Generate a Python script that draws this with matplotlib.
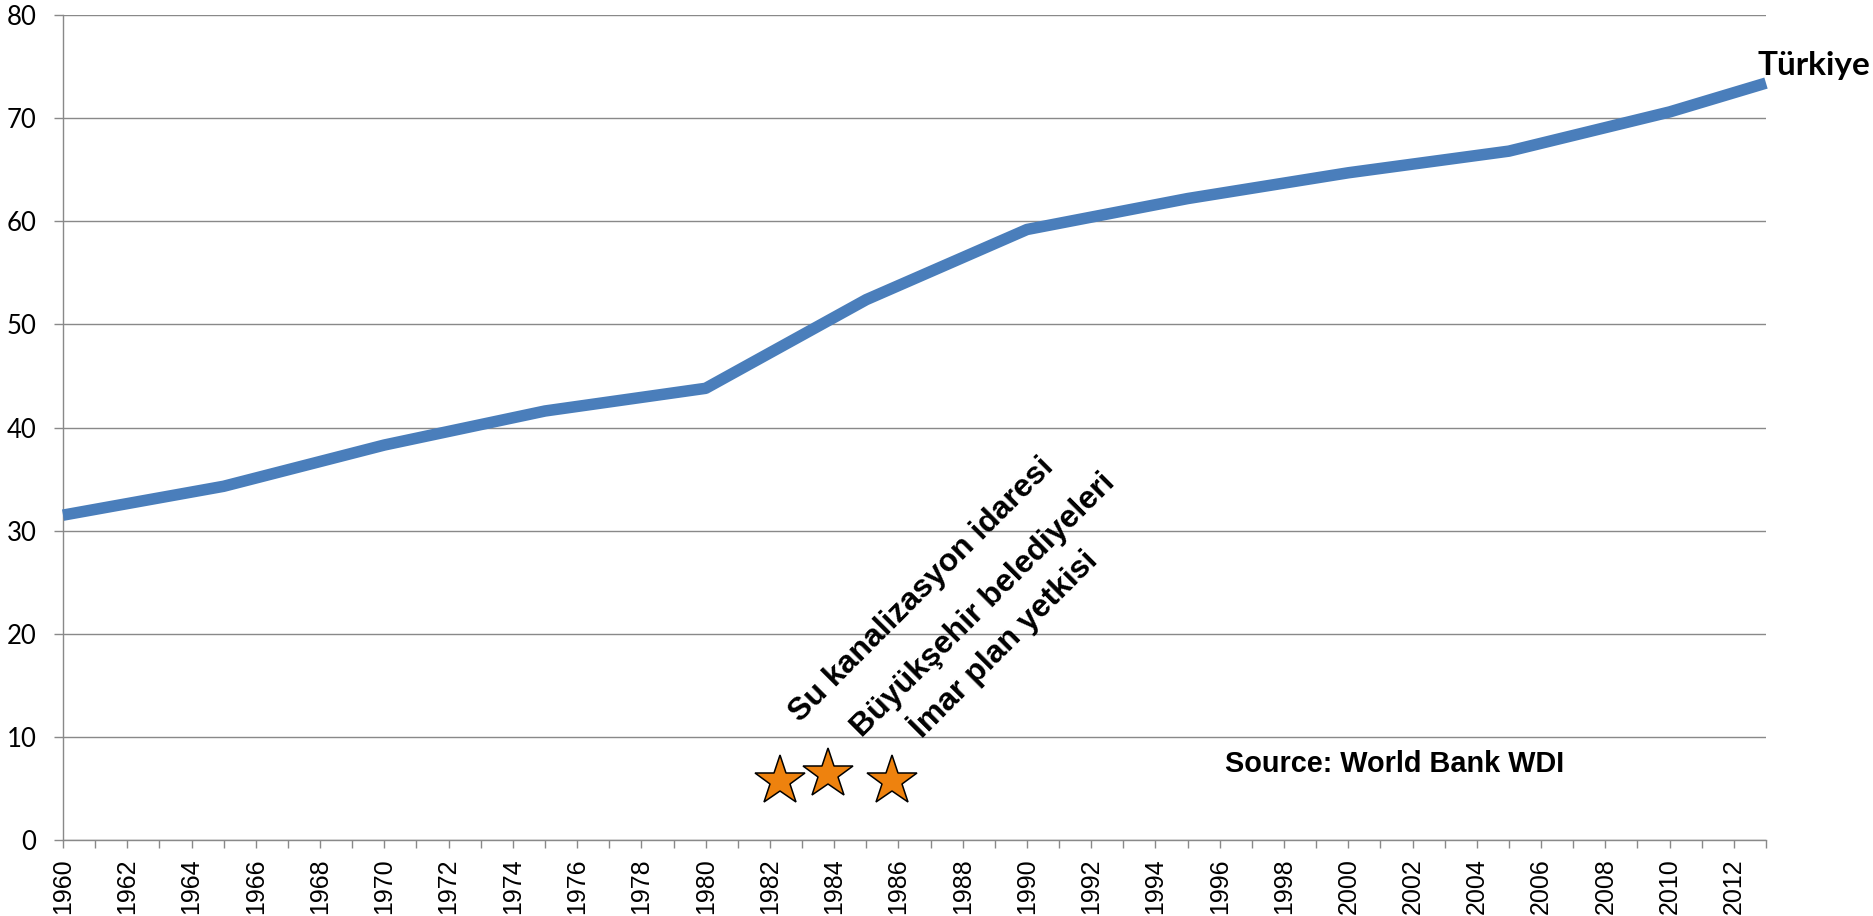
import matplotlib
matplotlib.use("Agg")
import matplotlib.pyplot as plt
from matplotlib.ticker import MultipleLocator, FuncFormatter

# urban population share, Turkey (5-year knots)
YEARS  = [1960, 1965, 1970, 1975, 1980, 1985, 1990, 1995, 2000, 2005, 2010, 2013]
URBAN  = [31.5, 34.3, 38.3, 41.6, 43.8, 52.4, 59.2, 62.2, 64.7, 66.8, 70.6, 73.4]

# reform markers
STAR_X = [1982.3, 1983.8, 1985.8]
STAR_Y = [5.7, 6.4, 5.7]
EVENTS = ["Su kanalizasyon idaresi", "Büyükşehir belediyeleri", "İmar plan yetkisi"]
EVENT_X = [1982.95, 1984.87, 1986.73]
EVENT_Y = [11.3, 9.9, 9.8]

GRAY = "#898989"
BLUE = "#4A7EBB"

fig = plt.figure(figsize=(18.74, 9.16), dpi=100)
ax = fig.add_axes([63 / 1874, 1 - 840 / 916, (1766 - 63) / 1874, (840 - 15) / 916])

ax.plot(YEARS, URBAN, color=BLUE, lw=8.3, solid_capstyle="butt",
        solid_joinstyle="round", zorder=3, clip_on=False)
ax.plot(STAR_X, STAR_Y, ls="none", marker="*", ms=38, mfc="#EE820E",
        mec="black", mew=1.1, zorder=4)

for t, x, y in zip(EVENTS, EVENT_X, EVENT_Y):
    ax.text(x, y, t, rotation=45, rotation_mode="anchor", ha="left", va="baseline",
            fontsize=23, fontweight="bold", family="Liberation Sans")

ax.text(2012.75, 74.2, "Türkiye", ha="left", va="baseline", fontsize=24,
        fontweight="bold", family="Lato", clip_on=False)
ax.text(1996.16, 6.6, "Source: World Bank WDI", ha="left", va="baseline",
        fontsize=20.8, fontweight="bold", family="Liberation Sans")

ax.set_xlim(1960, 2013)
ax.set_ylim(0, 80)
ax.yaxis.set_major_locator(MultipleLocator(10))
ax.xaxis.set_major_locator(MultipleLocator(1))
ax.xaxis.set_major_formatter(FuncFormatter(lambda v, p: f"{int(round(v))}" if int(round(v)) % 2 == 0 else ""))
ax.grid(axis="y", color=GRAY, lw=1.0, zorder=0)
ax.set_axisbelow(True)

for s in ("top", "right"):
    ax.spines[s].set_visible(False)
for s in ("left", "bottom"):
    ax.spines[s].set_color(GRAY)
    ax.spines[s].set_linewidth(1.0)

ax.tick_params(axis="y", length=6.5, width=1.0, color=GRAY, pad=12.5, labelsize=18.5)
ax.tick_params(axis="x", length=6.0, width=1.0, color=GRAY, pad=7, labelsize=18,
               labelrotation=90)
for lab in ax.get_yticklabels():
    lab.set_family("Lato")
for lab in ax.get_xticklabels():
    lab.set_family("Liberation Sans")

fig.savefig("out.png", dpi=100)
